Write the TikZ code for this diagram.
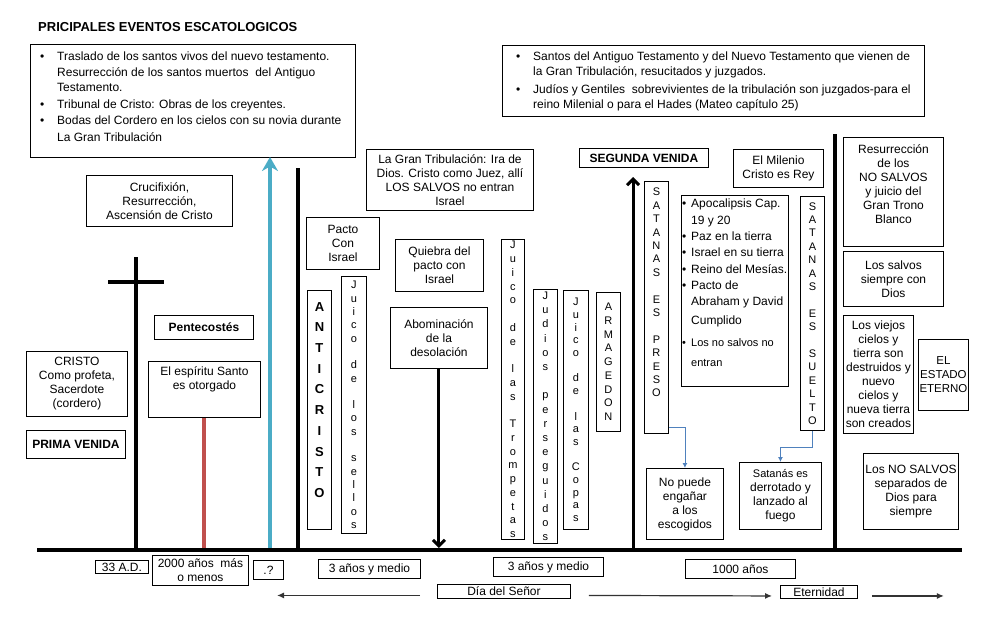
\documentclass[tikz,border=0pt]{standalone}
\usepackage{fontspec}
\setmainfont{Liberation Sans}
\usepackage{tikz}
\usetikzlibrary{positioning, arrows.meta}

\definecolor{pentred}{RGB}{192,80,77}
\definecolor{raptblue}{RGB}{75,172,198}
\definecolor{linkblue}{RGB}{79,129,189}

\newcommand{\blt}[1][17pt]{\makebox[#1][l]{\textbullet}}
\newcommand{\hng}[1][17pt]{\hspace*{#1}}

\tikzset{
  box/.style={draw, line width=0.9pt, align=center, inner sep=2pt, anchor=north west,
    font=\fontsize{12}{14}\selectfont},
  vtxt/.style={inner sep=0pt, align=center, font=\fontsize{11}{#1}\selectfont},
  vtxt/.default=13.5,
  vbox/.style={box, vtxt=#1},
  vbox/.default=13.5,
  tag/.style={box, inner ysep=0pt},
  bar/.style={line width=3.5pt},
  link/.style={draw=linkblue, line width=0.9pt, -{Latex[length=5pt,width=5pt]}},
  era/.style={draw=black!80, line width=1.2pt, -{Latex[length=7pt,width=6pt]}},
}

\begin{document}
\begin{tikzpicture}[x=1pt, y=-1pt]
\useasboundingbox (0,0) rectangle (985,621);

%//title and the two top boxes
\node[anchor=west, inner sep=0pt, font=\fontsize{13}{15}\bfseries] (titulo) at (38,27) {PRICIPALES EVENTOS ESCATOLOGICOS};

\node[box, minimum width=325, minimum height=113] (traslado) at (30,44) {};
\node[below right=8pt and 10pt of traslado.north west, inner sep=0pt, align=left, font=\fontsize{12}{15.5}\selectfont] (trasladoTxt)
  {\blt Traslado de los santos vivos del nuevo testamento.\\
   \hng Resurrección de los santos muertos\ \ del Antiguo\\
   \hng Testamento.\\[1pt]
   \blt Tribunal de Cristo: Obras de los creyentes.\\[1pt]
   \blt Bodas del Cordero en los cielos con su novia durante\\[1pt]
   \hng La Gran Tribulación};

\node[box, minimum width=422, minimum height=71, align=left, font=\fontsize{12}{15}\selectfont] (santos) at (502,45)
  {\blt Santos del Antiguo Testamento y del Nuevo Testamento que vienen de\\
   \hng la Gran Tribulación, resucitados y juzgados.\\[3pt]
   \blt Judíos y Gentiles\ \ sobrevivientes de la tribulación son juzgados-para el\\
   \hng reino Milenial o para el Hades (Mateo capítulo 25)};

%//first coming
\node[box, minimum width=146, minimum height=51] (cruz) at (86,175) {Crucifixión,\\Resurrección,\\Ascensión de Cristo};
\node[box, minimum width=99, minimum height=24, font=\fontsize{12}{14}\bfseries] (pentecostes) at (154,315) {Pentecostés};
\node[box, minimum width=101, minimum height=65] (cristo) at (26,351) {CRISTO\\Como profeta,\\Sacerdote\\(cordero)};
\node[box, minimum width=99, minimum height=28, font=\fontsize{12}{14}\bfseries] (primavenida) at (26,430) {PRIMA VENIDA};
\node[box, minimum width=112, minimum height=56] (espiritu) at (148,361) {};
\node[below=5pt of espiritu.north, inner sep=0pt, align=center, font=\fontsize{12}{14}\selectfont] (espirituTxt) {El espíritu Santo\\es otorgado};

%//tribulation
\node[box, minimum width=167, minimum height=61] (gratrib) at (366,149) {La Gran Tribulación: Ira de\\Dios. Cristo como Juez, allí\\LOS SALVOS no entran\\Israel};
\node[box, minimum width=73, minimum height=52] (pacto) at (306,217) {Pacto\\Con\\Israel};
\node[box, minimum width=88, minimum height=52] (quiebra) at (395,239) {Quiebra del\\pacto con\\Israel};
\node[box, minimum width=97, minimum height=61] (abominacion) at (390,307) {Abominación\\de la\\desolación};

\node[box, minimum width=24, minimum height=239] (anticristo) at (307,290) {};
\node[below=12pt of anticristo.north, inner sep=0pt, align=center, font=\fontsize{13}{20.7}\bfseries] (anticristoTxt) {A\\N\\T\\I\\C\\R\\I\\S\\T\\O};
\node[vbox=13.3, minimum width=25, minimum height=257] (sellos) at (341,276) {J\\u\\i\\c\\o\\~\\d\\e\\~\\l\\o\\s\\~\\s\\e\\l\\l\\o\\s};
\node[vbox=13.75, minimum width=23, minimum height=300] (trompetas) at (501,239) {J\\u\\i\\c\\o\\~\\d\\e\\~\\l\\a\\s\\~\\T\\r\\o\\m\\p\\e\\t\\a\\s};
\node[vbox=14.2, minimum width=24, minimum height=254] (judios) at (533,289) {J\\u\\d\\i\\o\\s\\~\\p\\e\\r\\s\\e\\g\\u\\i\\d\\o\\s};
\node[vbox=12.7, minimum width=25, minimum height=239] (copas) at (563,290) {J\\u\\i\\c\\o\\~\\d\\e\\~\\l\\a\\s\\~\\C\\o\\p\\a\\s};
\node[vbox=13.75, minimum width=24, minimum height=139] (armagedon) at (596,292) {A\\R\\M\\A\\G\\E\\D\\O\\N};

%//second coming and the millennium
\node[box, minimum width=129, minimum height=19, inner ysep=0pt, font=\fontsize{12}{14}\bfseries] (segunda) at (579,148) {SEGUNDA VENIDA};
\node[box, minimum width=24, minimum height=252] (preso) at (644,181) {};
\node[below=7pt of preso.north, vtxt=13.4] (presoTxt) {S\\A\\T\\A\\N\\A\\S\\~\\E\\S\\~\\P\\R\\E\\S\\O};
\node[box, minimum width=90, minimum height=38] (milenio) at (733,149) {El Milenio\\Cristo es Rey};
\node[box, minimum width=107, minimum height=191] (reino) at (681,195) {};
\node[below right=4pt and 1pt of reino.north west, inner sep=0pt, align=left, font=\fontsize{12}{16.3}\selectfont] (reinoTxt)
  {\blt[9pt]Apocalipsis Cap.\\
   \hng[9pt]19 y 20\\
   \blt[9pt]Paz en la tierra\\
   \blt[9pt]Israel en su tierra\\
   \blt[9pt]Reino del Mesías.\\
   \blt[9pt]Pacto de\\
   \hng[9pt]Abraham y David\\[3pt]
   \hng[9pt]Cumplido\\[5pt]
   \fontsize{11}{13}\selectfont\blt[9pt]Los no salvos no\\[4pt]
   \fontsize{11}{13}\selectfont\hng[9pt]entran};
\node[vbox=13.4, minimum width=24, minimum height=234] (suelto) at (800,196) {S\\A\\T\\A\\N\\A\\S\\~\\E\\S\\~\\S\\U\\E\\L\\T\\O};
\node[box, minimum width=77, minimum height=71] (noengana) at (646,468) {No puede\\engañar\\a los\\escogidos};
\node[box, minimum width=82, minimum height=67] (derrotado) at (739,462) {{\fontsize{11}{14}\selectfont Satanás es}\\derrotado y\\lanzado al\\fuego};

%//eternity
\node[box, minimum width=100, minimum height=109] (resurreccion) at (843,137) {};
\node[below=7pt of resurreccion.north, inner sep=0pt, align=center, font=\fontsize{12}{14}\selectfont] (resurreccionTxt) {Resurrección\\de los\\NO SALVOS\\y juicio del\\Gran Trono\\Blanco};
\node[box, minimum width=100, minimum height=55] (salvos) at (843,251) {Los salvos\\siempre con\\Dios};
\node[box, minimum width=70, minimum height=118] (viejos) at (843,315) {Los viejos\\cielos y\\tierra son\\destruidos y\\nuevo\\cielos y\\nueva tierra\\son creados};
\node[box, minimum width=50, minimum height=71, inner xsep=0pt, font=\fontsize{11.5}{14}\selectfont] (estado) at (918,339) {EL\\ESTADO\\ETERNO};
\node[box, minimum width=94, minimum height=76] (nosalvos) at (863,453) {Los NO SALVOS\\separados de\\Dios para\\siempre};

%//labels under the line
\node[tag, minimum width=53, minimum height=13] (ad) at (95,560) {33 A.D.};
\node[tag, minimum width=96, minimum height=30] (dosmil) at (152,555) {2000 años\ \ más\\o menos};
\node[tag, minimum width=30, minimum height=19] (interrog) at (253,560) {.?};
\node[tag, minimum width=102, minimum height=19] (tresA) at (318,559) {3 años y medio};
\node[tag, minimum width=133, minimum height=14] (diasenor) at (437,584) {Día del Señor};
\node[tag, minimum width=110, minimum height=19] (tresB) at (493,557) {3 años y medio};
\node[tag, minimum width=110, minimum height=19] (mil) at (685,559) {1000 años};
\node[tag, minimum width=77, minimum height=13] (eternidad) at (780,585) {Eternidad};

%//timeline
\coordinate (ejeL) at (37,550);
\coordinate (ejeR) at (962,550);
\coordinate (rapto) at (270,157);
\coordinate (venida) at (633,177);

\draw[bar] (136,257) -- (136,550);
\draw[bar] (108,282) -- (164,282);
\draw[line width=4pt, pentred] (espiritu.south) -- (espiritu.south |- ejeL);
\draw[line width=4pt, raptblue, -{Stealth[length=14pt,width=16pt]}] (rapto |- ejeL) -- (rapto);
\draw[bar] (298,168) -- (298,550);
\draw[line width=3pt, -{Straight Barb[length=6pt,width=12pt]}] (abominacion.south) -- ([yshift=2pt]abominacion.south |- ejeL);
\draw[line width=3pt, -{Straight Barb[length=6pt,width=12pt]}] (venida |- ejeL) -- (venida);
\draw[line width=4pt] (835,134) -- (835,550);
\draw[line width=4pt] (ejeL) -- (ejeR);

\draw[link] ([yshift=6pt]preso.south east) -| (noengana.north);
\draw[link] (suelto.south) -- ++(0,17) -| (derrotado.north);

\draw[era] ([xshift=-17pt,yshift=-4pt]diasenor.west) -- ++(-143,0);
\draw[era] ([xshift=18pt,yshift=-4pt]diasenor.east) -- ([xshift=-8pt,yshift=-4pt]eternidad.west);
\draw[era] ([xshift=14pt,yshift=-4pt]eternidad.east) -- ++(72,0);
\end{tikzpicture}
\end{document}
